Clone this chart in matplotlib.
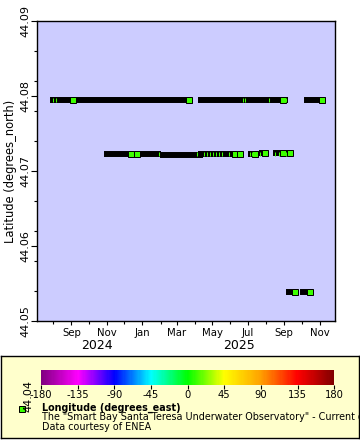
import matplotlib
matplotlib.use("Agg")
import matplotlib.pyplot as plt
import matplotlib.dates as mdates
from matplotlib.colors import LinearSegmentedColormap, Normalize
from matplotlib.cm import ScalarMappable
import numpy as np
from datetime import datetime

plt.rcParams['font.family'] = ['DejaVu Sans']
plt.rcParams['axes.unicode_minus'] = False

# ---------------- data ----------------
# continuous runs of observations (start, end, latitude)
seg_start = ["2024-08-01", "2025-04-12", "2025-10-10",
             "2024-11-02", "2025-02-06", "2025-04-12", "2025-07-07", "2025-07-26", "2025-08-19",
             "2025-09-10", "2025-10-03"]
seg_end = ["2025-03-22", "2025-09-03", "2025-11-05",
           "2025-01-27", "2025-04-10", "2025-06-18", "2025-07-15", "2025-07-31", "2025-09-12",
           "2025-09-20", "2025-10-15"]
seg_lat = [44.0795, 44.0795, 44.0795,
           44.0723, 44.0721, 44.0723, 44.0723, 44.0724, 44.0724,
           44.0539, 44.0539]

# points whose colour square is fully visible
sq_dates = ["2024-09-03", "2025-03-22", "2025-08-31", "2025-11-05",
            "2024-12-12", "2024-12-22", "2025-06-09", "2025-06-18", "2025-07-14",
            "2025-07-31", "2025-08-31", "2025-09-11",
            "2025-09-20", "2025-10-15"]
sq_lats = [44.0795, 44.0795, 44.0795, 44.0795,
           44.0723, 44.0723, 44.0723, 44.0723, 44.0723,
           44.0724, 44.0724, 44.0724,
           44.0539, 44.0539]

# points only partly visible (thin colour slivers)
thin_dates = ["2024-08-01", "2024-08-05", "2025-06-23", "2025-06-26", "2025-08-06", "2025-09-04",
              "2025-01-30", "2025-04-05", "2025-04-17", "2025-04-22", "2025-04-27", "2025-05-02",
              "2025-05-07", "2025-05-12", "2025-05-18", "2025-05-30", "2025-07-05", "2025-07-08",
              "2025-07-22", "2025-08-17", "2025-08-24", "2025-09-04"]
thin_lats = [44.0795] * 6 + [44.0723] * 16

longitude = 9.86  # degrees_east, colour of the markers

cbar_ticks = [-180, -135, -90, -45, 0, 45, 90, 135, 180]
y_ticks = [44.05, 44.06, 44.07, 44.08, 44.09]
year_labels = ["2024", "2025"]
year_label_pos = ["2024-10-15", "2025-06-15"]
x_range = ["2024-07-04", "2025-11-28"]

title_text = "Longitude (degrees_east)"
line2 = 'The "Smart Bay Santa Teresa Underwater Observatory" - Current data'
line3 = "Data courtesy of ENEA"

# ---------------- figure ----------------
W, H = 360, 440
fig = plt.figure(figsize=(W / 100, H / 100), dpi=100, facecolor='white')

def fx(x):
    return x / W

def fy(y):
    return 1 - y / H

D = lambda s: mdates.date2num(datetime.strptime(s, "%Y-%m-%d"))

cmap = LinearSegmentedColormap.from_list(
    "rainbow2",
    [(0.0, "#800080"), (0.125, "#FF00FF"), (0.25, "#0000FF"), (0.375, "#00FFFF"),
     (0.5, "#00FF00"), (0.625, "#FFFF00"), (0.75, "#FFA000"), (0.875, "#FF0000"),
     (1.0, "#800000")])
norm = Normalize(-180, 180)
mcol = cmap(norm(longitude))

ax = fig.add_axes([fx(37), fy(321), (335.3 - 37) / W, 300 / H])
ax.set_facecolor("#CCCCFF")

for s, e, la in zip(seg_start, seg_end, seg_lat):
    ax.plot([D(s), D(e)], [la, la], color='black', lw=4.3,
            solid_capstyle='projecting', zorder=2)

ax.plot([D(d) for d in sq_dates], sq_lats, 's', ms=4.3, mfc=mcol, mec='black',
        mew=0.72, ls='none', zorder=3)
ax.plot([D(d) for d in thin_dates], thin_lats, '|', ms=2.9, mew=0.75, color=mcol,
        ls='none', zorder=4)

ax.set_xlim(D(x_range[0]), D(x_range[1]))
ax.set_ylim(44.05, 44.09)

ax.xaxis.set_major_locator(mdates.MonthLocator(bymonth=[1, 3, 5, 7, 9, 11]))
ax.xaxis.set_major_formatter(mdates.DateFormatter("%b"))
ax.xaxis.set_minor_locator(mdates.MonthLocator())
ax.set_yticks(y_ticks)
ax.set_yticklabels([f"{v:.2f}" for v in y_ticks], rotation=90, va='center')
ax.set_yticks(np.arange(44.05, 44.0901, 0.004), minor=True)

ax.tick_params(axis='x', which='major', direction='out', length=3, width=0.8,
               labelsize=7.3, pad=2)
ax.tick_params(axis='x', which='minor', direction='out', length=2, width=0.8)
ax.tick_params(axis='y', which='major', direction='out', length=4, width=0.8,
               labelsize=8, pad=1)
ax.tick_params(axis='y', which='minor', direction='out', length=2, width=0.8)
for sp in ax.spines.values():
    sp.set_linewidth(1.0)

ax.set_ylabel("Latitude (degrees_north)", fontsize=8.3)
ax.yaxis.set_label_coords((17 - 37) / 298.3, 0.5)

for lab, pos in zip(year_labels, year_label_pos):
    ax.text(D(pos), -0.083, lab, transform=ax.get_xaxis_transform(),
            ha='center', va='center', fontsize=9)

# ---------------- legend box ----------------
lax = fig.add_axes([fx(1), fy(438), 358 / W, 82 / H])
lax.set_facecolor("#FFFFCC")
lax.set_xticks([])
lax.set_yticks([])
for sp in lax.spines.values():
    sp.set_linewidth(1.0)
    sp.set_color('black')

cax = fig.add_axes([fx(41), fy(384.7), (334.3 - 41) / W, 14.7 / H])
cb = fig.colorbar(ScalarMappable(norm=norm, cmap=cmap), cax=cax,
                  orientation='horizontal', ticks=cbar_ticks)
cb.outline.set_visible(False)
cax.tick_params(length=3, width=0.8, labelsize=7.2, pad=1)

lax.plot([fx(21.5)], [fy(408.5)], 's', ms=4.3, mfc=mcol, mec='black', mew=0.72,
         transform=fig.transFigure, clip_on=False)
lax.text(fx(42.5), fy(408), title_text, transform=fig.transFigure, fontsize=6.9,
         fontweight='bold', ha='left', va='center', clip_on=True)
lax.text(fx(42.5), fy(417), line2, transform=fig.transFigure, fontsize=6.9,
         ha='left', va='center', clip_on=True)
lax.text(fx(42.5), fy(427), line3, transform=fig.transFigure, fontsize=6.9,
         ha='left', va='center', clip_on=True)

# stray lowest latitude label drawn over the legend
fig.text(fx(28), fy(396), "44.04", rotation=90, ha='center', va='center', fontsize=8,
         zorder=10)

fig.savefig("out.png", dpi=100, facecolor='white')
